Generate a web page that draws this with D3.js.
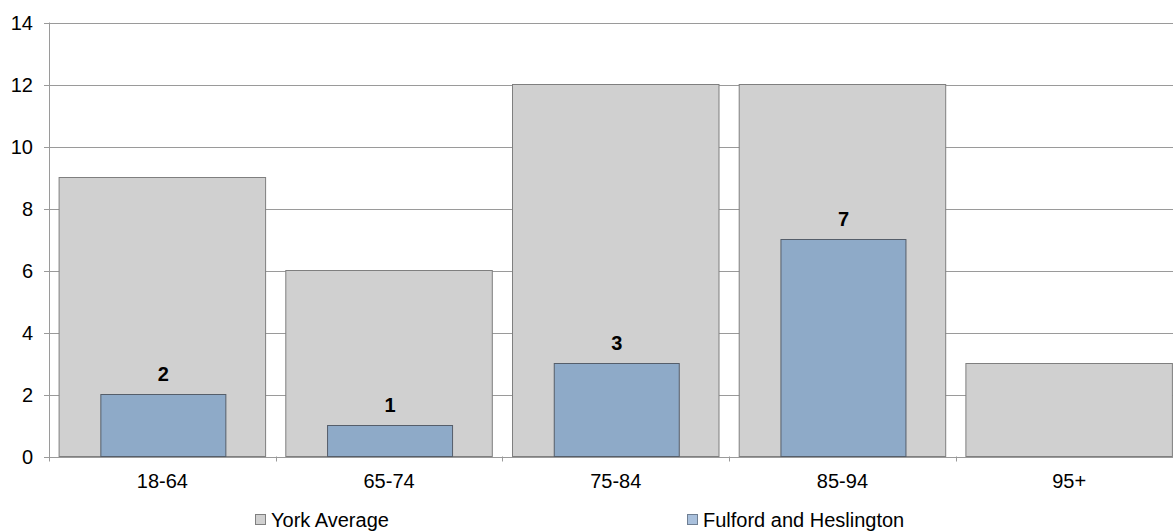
<!DOCTYPE html>
<html lang="en">
<head>
  <meta charset="utf-8">
  <title>York Average vs Fulford and Heslington</title>
  <style>
    body { margin:0; background:#fff; }
    svg  { display:block; }
    text { font-family:"Liberation Sans", Arial, sans-serif; fill:#000; }
  </style>
</head>
<body>
<script src="https://d3js.org/d3.v7.min.js"></script>
<script>

// chart data
const categories = ["18-64", "65-74", "75-84", "85-94", "95+"];
const yorkAverage = [9, 6, 12, 12, 3];
const fulford = [2, 1, 3, 7, null];
const seriesNames = ["York Average", "Fulford and Heslington"];
const yTicks = [0, 2, 4, 6, 8, 10, 12, 14];

const width = 1173, height = 531;
const plotLeft = 49, plotTop = 22.5, plotBottom = 456.5;
const bandW = 226.7;
const fontPx = "20px";

const svg = d3.select("body").append("svg")
  .attr("width", width)
  .attr("height", height);

// -- scales --
const x = d3.scaleBand()
  .domain(categories)
  .range([plotLeft, plotLeft + bandW * categories.length])
  .paddingInner(0)
  .paddingOuter(0);

const y = d3.scaleLinear()
  .domain([0, 14])
  .range([plotBottom, plotTop]);

// gridlines
svg.append("g")
  .selectAll("line")
  .data(yTicks.filter(d => d > 0))
  .join("line")
    .attr("x1", plotLeft)
    .attr("x2", width)
    .attr("y1", d => Math.round(y(d)) + 0.5)
    .attr("y2", d => Math.round(y(d)) + 0.5)
    .attr("stroke", "#9a9a9a")
    .attr("stroke-width", 1);

// York average bars (wide, behind)
const wideW = 206.5;
svg.append("g")
  .selectAll("rect")
  .data(yorkAverage)
  .join("rect")
    .attr("x", (d, i) => x(categories[i]) + (bandW - wideW) / 2)
    .attr("y", d => y(d))
    .attr("width", wideW)
    .attr("height", d => y(0) - y(d))
    .attr("fill", "#d0d0d0")
    .attr("stroke", "#7f7f7f")
    .attr("stroke-width", 1);

// Fulford bars (narrow, front)
const narrowW = 125;
const fdata = fulford.map((v, i) => ({ v, cat: categories[i] })).filter(d => d.v != null);
svg.append("g")
  .selectAll("rect")
  .data(fdata)
  .join("rect")
    .attr("x", d => x(d.cat) + (bandW - narrowW) / 2 + 1)
    .attr("y", d => y(d.v))
    .attr("width", narrowW)
    .attr("height", d => y(0) - y(d.v))
    .attr("fill", "#8eaac8")
    .attr("stroke", "#555e6a")
    .attr("stroke-width", 1);

// value labels
svg.append("g")
  .selectAll("text")
  .data(fdata)
  .join("text")
    .attr("x", d => x(d.cat) + bandW / 2 + 1)
    .attr("y", d => y(d.v) - 13.5)
    .attr("text-anchor", "middle")
    .style("font-size", fontPx)
    .style("font-weight", "bold")
    .text(d => d.v);

// y axis
svg.append("line")
  .attr("x1", plotLeft + 0.5).attr("x2", plotLeft + 0.5)
  .attr("y1", plotTop).attr("y2", plotBottom + 5)
  .attr("stroke", "#9a9a9a");

svg.append("g")
  .selectAll("line")
  .data(yTicks)
  .join("line")
    .attr("x1", plotLeft - 5).attr("x2", plotLeft)
    .attr("y1", d => Math.round(y(d)) + 0.5)
    .attr("y2", d => Math.round(y(d)) + 0.5)
    .attr("stroke", "#9a9a9a");

svg.append("g")
  .selectAll("text")
  .data(yTicks)
  .join("text")
    .attr("x", plotLeft - 16)
    .attr("y", d => y(d) + 7)
    .attr("text-anchor", "end")
    .style("font-size", fontPx)
    .text(d => d);

// x axis
svg.append("line")
  .attr("x1", plotLeft).attr("x2", width)
  .attr("y1", Math.round(plotBottom) + 0.5).attr("y2", Math.round(plotBottom) + 0.5)
  .attr("stroke", "#9a9a9a");

svg.append("g")
  .selectAll("line")
  .data(categories.slice(1))
  .join("line")
    .attr("x1", d => Math.round(x(d)) + 0.5)
    .attr("x2", d => Math.round(x(d)) + 0.5)
    .attr("y1", plotBottom)
    .attr("y2", plotBottom + 5)
    .attr("stroke", "#9a9a9a");

svg.append("g")
  .selectAll("text")
  .data(categories)
  .join("text")
    .attr("x", d => x(d) + bandW / 2)
    .attr("y", plotBottom + 31.5)
    .attr("text-anchor", "middle")
    .style("font-size", fontPx)
    .text(d => d);

// legend
const legendData = [
  { label: seriesNames[0], fill: "#d0d0d0", stroke: "#7f7f7f", x: 255 },
  { label: seriesNames[1], fill: "#a9c0dc", stroke: "#6f7f93", x: 687 }
];
const legend = svg.append("g");
legend.selectAll("rect")
  .data(legendData)
  .join("rect")
    .attr("x", d => d.x + 0.5)
    .attr("y", 514.5)
    .attr("width", 10)
    .attr("height", 10)
    .attr("fill", d => d.fill)
    .attr("stroke", d => d.stroke);
legend.selectAll("text")
  .data(legendData)
  .join("text")
    .attr("x", d => d.x + 16)
    .attr("y", 527)
    .style("font-size", fontPx)
    .text(d => d.label);

</script>
</body>
</html>
